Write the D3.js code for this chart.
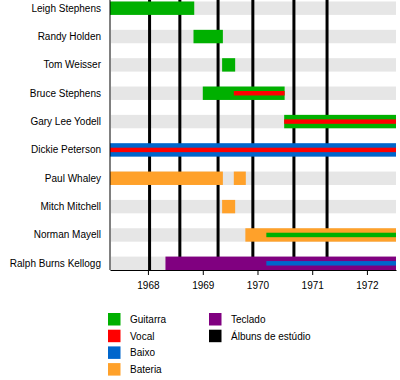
<!DOCTYPE html>
<html>
<head>
<meta charset="utf-8">
<script src="https://cdn.jsdelivr.net/npm/d3@7"></script>
<style>
  body { margin: 0; background: #fff; }
  text { font-family: "Liberation Sans", Arial, sans-serif; }
</style>
</head>
<body>
<svg id="chart" width="400" height="380"></svg>
<script>
// ---- Data ----
const members = ["Leigh Stephens", "Randy Holden", "Tom Weisser", "Bruce Stephens", "Gary Lee Yodell",
                 "Dickie Peterson", "Paul Whaley", "Mitch Mitchell", "Norman Mayell", "Ralph Burns Kellogg"];
const roles = ["Guitarra", "Vocal", "Baixo", "Bateria", "Teclado", "Álbuns de estúdio"];
const roleColors = ["#00b000", "#ff0000", "#0066cc", "#ffa12a", "#800080", "#000000"];
const timelineStart = "1967-04-23";
const timelineEnd = "1972-07-13";
// main bars: [member, role, start, end]
const mainBars = [
  ["Leigh Stephens", "Guitarra", "1967-04-23", "1968-11-05"],
  ["Randy Holden", "Guitarra", "1968-10-31", "1969-05-15"],
  ["Tom Weisser", "Guitarra", "1969-05-10", "1969-08-05"],
  ["Bruce Stephens", "Guitarra", "1969-01-01", "1970-07-01"],
  ["Gary Lee Yodell", "Guitarra", "1970-06-28", "1972-07-13"],
  ["Dickie Peterson", "Baixo", "1967-04-23", "1972-07-13"],
  ["Paul Whaley", "Bateria", "1967-04-23", "1969-05-15"],
  ["Paul Whaley", "Bateria", "1969-07-27", "1969-10-15"],
  ["Mitch Mitchell", "Bateria", "1969-05-10", "1969-08-05"],
  ["Norman Mayell", "Bateria", "1969-10-12", "1972-07-13"],
  ["Ralph Burns Kellogg", "Teclado", "1968-04-27", "1972-07-13"]
];
// secondary (inner) bars
const innerBars = [
  ["Bruce Stephens", "Vocal", "1969-07-27", "1970-07-01"],
  ["Gary Lee Yodell", "Vocal", "1970-06-28", "1972-07-13"],
  ["Dickie Peterson", "Vocal", "1967-04-23", "1972-07-13"],
  ["Norman Mayell", "Guitarra", "1970-03-01", "1972-07-13"],
  ["Ralph Burns Kellogg", "Baixo", "1970-03-01", "1972-07-13"]
];
const albums = ["1968-01-12", "1968-08-01", "1969-04-13", "1969-12-01", "1970-09-01", "1971-04-10"];
const tickYears = ["1968", "1969", "1970", "1971", "1972"];

// ---- Chart ----
(function () {
const parse = d3.timeParse("%Y-%m-%d");
const svg = d3.select("#chart");
const mLeft = 110, mRight = 396, mTop = 1.5, mBottom = 270;

const x = d3.scaleTime().domain([parse(timelineStart), parse(timelineEnd)]).range([mLeft, mRight]);
const y = d3.scaleBand().domain(members).range([mTop, mBottom]).paddingInner(0.527).paddingOuter(0);
const color = d3.scaleOrdinal().domain(roles).range(roleColors);
const bw = y.bandwidth();

// grey background bands
svg.append("g").selectAll("rect").data(members).join("rect")
  .attr("x", mLeft + 1).attr("y", d => y(d))
  .attr("width", mRight - mLeft - 1).attr("height", bw)
  .attr("fill", "#e6e6e6");

// album lines
svg.append("g").selectAll("line").data(albums).join("line")
  .attr("x1", d => x(parse(d))).attr("x2", d => x(parse(d)))
  .attr("y1", 0).attr("y2", mBottom)
  .attr("stroke", "#000").attr("stroke-width", 3);

// main bars
svg.append("g").selectAll("rect").data(mainBars).join("rect")
  .attr("x", d => x(parse(d[2]))).attr("y", d => y(d[0]))
  .attr("width", d => x(parse(d[3])) - x(parse(d[2]))).attr("height", bw)
  .attr("fill", d => color(d[1]));

// inner bars
const ih = bw / 3;
svg.append("g").selectAll("rect").data(innerBars).join("rect")
  .attr("x", d => x(parse(d[2]))).attr("y", d => y(d[0]) + (bw - ih) / 2)
  .attr("width", d => x(parse(d[3])) - x(parse(d[2]))).attr("height", ih)
  .attr("fill", d => color(d[1]));

// left axis line
svg.append("line").attr("x1", mLeft).attr("x2", mLeft).attr("y1", 0).attr("y2", mBottom)
  .attr("stroke", "#000").attr("stroke-width", 1);

// row labels
svg.append("g").selectAll("text").data(members).join("text")
  .attr("x", 101).attr("y", d => y(d) + bw / 2).attr("dy", "0.35em")
  .attr("text-anchor", "end").attr("font-size", 10).attr("fill", "#000")
  .text(d => d);

// bottom axis
const xAxis = d3.axisBottom(x)
  .tickValues(tickYears.map(t => parse(t + "-01-01")))
  .tickFormat(d3.timeFormat("%Y"))
  .tickSize(5).tickPadding(7).tickSizeOuter(0);
const ax = svg.append("g").attr("transform", `translate(0,${mBottom})`).call(xAxis);
ax.select(".domain").attr("stroke", "#000");
ax.selectAll("text").attr("font-size", 10).attr("font-family", "Liberation Sans, Arial, sans-serif").attr("fill", "#000");

// legend
const legendPos = [[108, 313], [108, 329.7], [108, 346.4], [108, 363.1], [209, 313], [209, 329.7]];
const lg = svg.append("g").selectAll("g").data(roles).join("g")
  .attr("transform", (d, i) => `translate(${legendPos[i][0]},${legendPos[i][1]})`);
lg.append("rect").attr("width", 12.5).attr("height", 12.5).attr("fill", d => color(d));
lg.append("text").attr("x", 22).attr("y", 6.5).attr("dy", "0.35em")
  .attr("font-size", 10).attr("fill", "#000").text(d => d);
})();
</script>
</body>
</html>
